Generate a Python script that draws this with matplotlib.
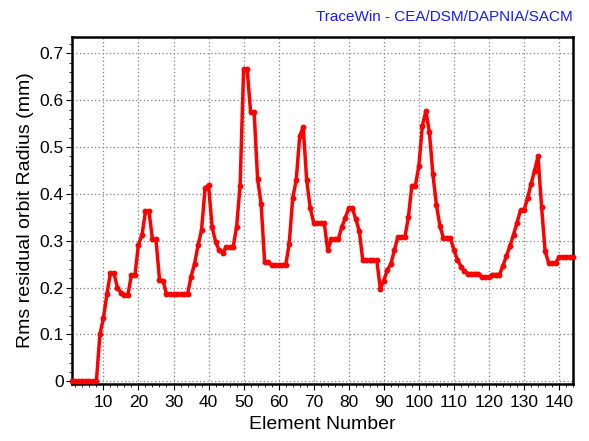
import numpy as np
import matplotlib
matplotlib.use("Agg")
import matplotlib.pyplot as plt
from matplotlib.ticker import MultipleLocator, FuncFormatter

plt.rcParams["font.family"] = ["Liberation Sans", "DejaVu Sans"]

# element number 1..144 and rms residual orbit radius (mm)
element = np.arange(1, 145)
radius = (
    [0.0] * 8
    + [0.100, 0.135, 0.186, 0.231, 0.231, 0.200, 0.189, 0.185, 0.185, 0.227,
       0.227, 0.292, 0.312, 0.363, 0.363, 0.303, 0.303, 0.217, 0.215]
    + [0.186] * 7
    + [0.223, 0.251, 0.290, 0.323, 0.412, 0.419, 0.330, 0.298, 0.280, 0.274,
       0.286, 0.286, 0.286, 0.330, 0.418, 0.667, 0.667, 0.575, 0.575, 0.431,
       0.378, 0.254, 0.254]
    + [0.248] * 5
    + [0.293, 0.391, 0.429, 0.523, 0.543, 0.429, 0.370, 0.338, 0.338, 0.338,
       0.338, 0.280, 0.303, 0.303, 0.303, 0.329, 0.349, 0.370, 0.370, 0.346,
       0.321, 0.258, 0.258, 0.258, 0.258, 0.258, 0.198, 0.215, 0.238, 0.250,
       0.280, 0.308, 0.308, 0.308, 0.350, 0.418, 0.418, 0.460, 0.546, 0.577,
       0.532, 0.442, 0.377, 0.332, 0.306, 0.306, 0.306, 0.280, 0.260, 0.245,
       0.235, 0.230, 0.230, 0.230, 0.230, 0.222, 0.222, 0.222, 0.228, 0.228,
       0.228, 0.247, 0.268, 0.289, 0.313, 0.339, 0.365, 0.365, 0.391, 0.421,
       0.450, 0.480, 0.373, 0.279, 0.253, 0.253, 0.253]
    + [0.265] * 5
)

fig = plt.figure(figsize=(5.89, 4.41), dpi=100)
ax = fig.add_axes([0.122, 0.129, 0.851, 0.787])

ax.plot(element, radius, color="#ff0000", lw=2.5, marker="o", ms=3.2,
        zorder=3, clip_on=False)

ax.set_xlim(1, 144)
ax.set_ylim(-0.006, 0.735)
ax.xaxis.set_major_locator(MultipleLocator(10))
ax.xaxis.set_minor_locator(MultipleLocator(2))
ax.yaxis.set_major_locator(MultipleLocator(0.1))
ax.yaxis.set_minor_locator(MultipleLocator(0.02))
ax.yaxis.set_major_formatter(FuncFormatter(lambda v, p: "0" if abs(v) < 1e-9 else f"{v:g}"))

ax.grid(True, which="major", color="#808080", ls=(0, (1, 2)), lw=0.9)
for s in ax.spines.values():
    s.set_linewidth(1.8)
ax.tick_params(which="major", length=4, width=0.8, labelsize=12.5, pad=2)
ax.tick_params(axis="x", which="major", pad=4)
ax.tick_params(which="minor", length=2.5, width=0.6)

ax.set_xlabel("Element Number", fontsize=14, labelpad=4)
ax.set_ylabel("Rms residual orbit Radius (mm)", fontsize=14, labelpad=4)

fig.text(0.973, 0.978, "TraceWin - CEA/DSM/DAPNIA/SACM", color="#1a1aff",
         fontsize=11, ha="right", va="top")

plt.savefig("out.png", dpi=100)
